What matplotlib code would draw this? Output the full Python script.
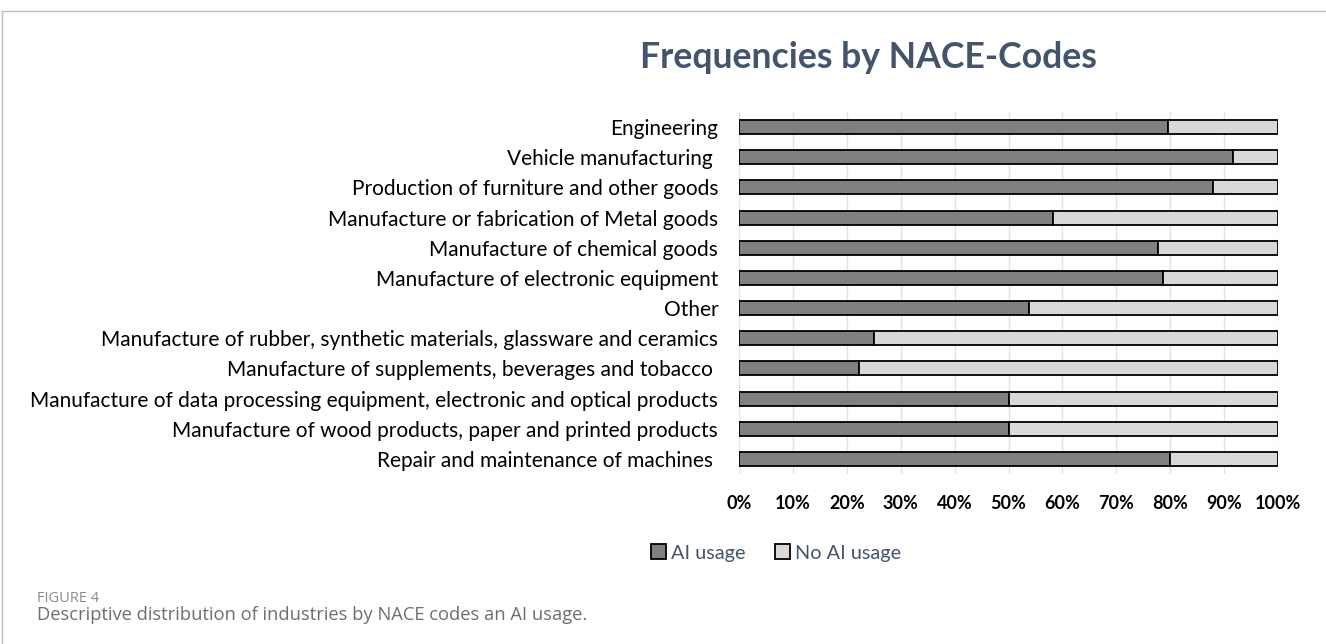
import matplotlib
matplotlib.use("Agg")
import matplotlib.pyplot as plt
from matplotlib.lines import Line2D
from matplotlib.patches import Patch
import numpy as np

# NACE industry groups, listed top to bottom
industries = [
    "Engineering",
    "Vehicle manufacturing ",
    "Production of furniture and other goods",
    "Manufacture or fabrication of Metal goods",
    "Manufacture of chemical goods",
    "Manufacture of electronic equipment",
    "Other",
    "Manufacture of rubber, synthetic materials, glassware and ceramics",
    "Manufacture of supplements, beverages and tobacco ",
    "Manufacture of data processing equipment, electronic and optical products",
    "Manufacture of wood products, paper and printed products",
    "Repair and maintenance of machines ",
]
# share of firms using AI (%)
ai_usage = [79.5, 91.7, 88.0, 58.3, 77.8, 78.6, 53.8, 25.0, 22.2, 50.0, 50.0, 80.0]
no_ai_usage = [100 - v for v in ai_usage]
ticks = np.arange(0, 101, 10)

dark = "#808080"
light = "#D9D9D9"
text_blue = "#44546A"

fig = plt.figure(figsize=(13.26, 6.44), dpi=100)
ax = fig.add_axes([739 / 1326, 1 - 474 / 644, 539 / 1326, 362 / 644])

y = np.arange(len(industries))
ax.barh(y, ai_usage, height=0.46, color=dark, edgecolor="black", linewidth=1.3,
        label="AI usage", zorder=3)
ax.barh(y, no_ai_usage, left=ai_usage, height=0.46, color=light, edgecolor="black",
        linewidth=1.3, label="No AI usage", zorder=3)

ax.set_ylim(len(industries) - 0.5, -0.5)
ax.set_xlim(0, 100)
ax.set_yticks(y)
ax.set_yticklabels(industries, fontsize=15, family="Lato")
ax.set_xticks(ticks)
ax.set_xticklabels([f"{t}%" for t in ticks], fontsize=13, fontweight="bold", family="Lato")
ax.tick_params(axis="y", length=0, pad=15)
ax.tick_params(axis="x", length=0, pad=15)
ax.grid(axis="x", color="#DCE3EC", linewidth=1.0, zorder=0)
for s in ax.spines.values():
    s.set_visible(False)

fig.text(0.655, 1 - 58 / 644, "Frequencies by NACE-Codes", ha="center", va="center",
         fontsize=25.7, fontweight="bold", color=text_blue, family="Lato")

handles = [Patch(facecolor=dark, edgecolor="black", linewidth=1.3),
           Patch(facecolor=light, edgecolor="black", linewidth=1.3)]
fig.legend(handles, ["AI usage", "No AI usage"], loc="center",
           bbox_to_anchor=(776 / 1326, 1 - 553 / 644), ncol=2, frameon=False,
           labelcolor=text_blue, prop={"family": "Lato", "size": 14.3},
           handlelength=0.75, handleheight=0.75, handletextpad=0.25, columnspacing=1.5)

fig.text(37 / 1326, 1 - 598 / 644, "FIGURE 4", ha="left", va="center",
         fontsize=10.5, color="#8A8A8A", family="Open Sans")
fig.text(37 / 1326, 1 - 615 / 644,
         "Descriptive distribution of industries by NACE codes an AI usage.",
         ha="left", va="center", fontsize=13.2, color="#6E6E6E", family="Open Sans")

# thin frame on the top and left edge
fig.add_artist(Line2D([2 / 1326, 1], [1 - 11 / 644, 1 - 11 / 644], color="#BDBDBD", linewidth=1))
fig.add_artist(Line2D([2 / 1326, 2 / 1326], [0, 1 - 11 / 644], color="#BDBDBD", linewidth=1))

fig.savefig("out.png", dpi=100, facecolor="white")
